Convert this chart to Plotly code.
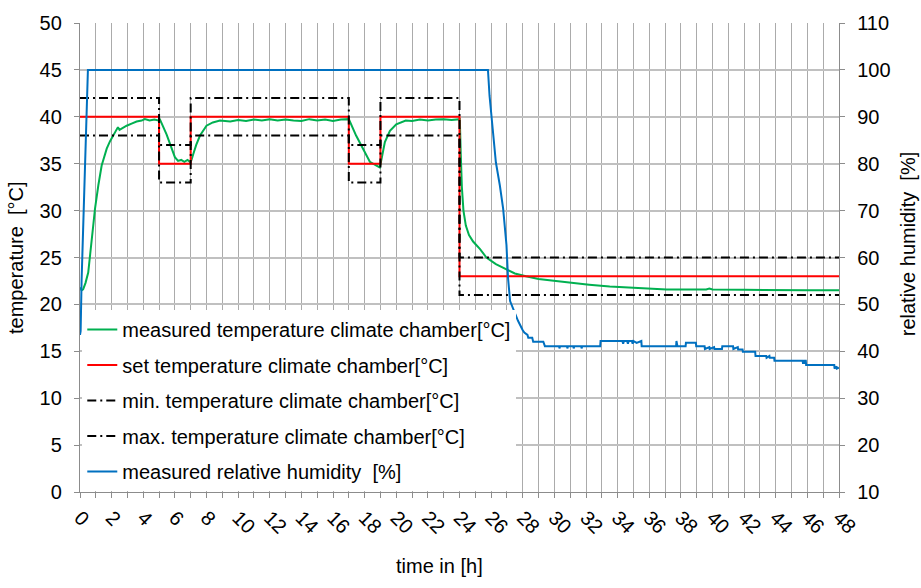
import plotly.graph_objects as go

# ---------------- data ----------------
# measured temperature climate chamber [°C]
t_meas = [0.0, 0.1, 0.2, 0.35, 0.52, 0.65, 0.74, 0.85, 0.95, 1.05, 1.16, 1.37, 1.55, 1.69,
          1.9, 2.1, 2.3, 2.4, 2.5, 2.7, 2.95, 3.3, 3.58, 3.9, 4.1, 4.4, 4.7, 4.95,
          5.06, 5.48, 5.8, 6.0, 6.2, 6.4, 6.6, 6.8, 6.95, 7.05, 7.16, 7.35, 7.59, 7.8,
          8.0, 8.4, 8.85, 9.5, 10.0, 10.5, 11.0, 11.5, 12.0, 12.5, 13.0, 13.5, 14.0,
          14.5, 15.0, 15.5, 16.0, 16.5, 17.0, 17.46, 17.9, 18.33, 18.75, 18.96, 19.07,
          19.28, 19.6, 20.0, 20.6, 21.0, 21.5, 22.0, 22.5, 23.0, 23.5, 23.95, 24.02,
          24.08, 24.15, 24.25, 24.4, 24.6, 24.86, 25.3, 25.7, 26.3, 26.97, 27.5, 28.2, 29.0,
          30.1, 31.0, 32.2, 33.5, 35.0, 36.0, 37.1, 38.5, 39.6, 39.8, 40.0, 42.0, 44.0,
          46.0, 48.0]
T_meas = [21.8, 21.5, 21.6, 22.3, 23.4, 25.2, 26.7, 28.6, 30.2, 31.6, 32.7, 34.8, 35.9, 36.6,
          37.4, 38.0, 38.5, 38.9, 38.6, 38.8, 39.05, 39.3, 39.5, 39.6, 39.75, 39.6, 39.7, 39.6,
          39.7, 38.1, 36.7, 35.7, 35.3, 35.4, 35.2, 35.4, 35.2, 35.4, 36.0, 37.0, 38.0, 38.6,
          39.05, 39.4, 39.6, 39.5, 39.65, 39.55, 39.7, 39.6, 39.75, 39.6, 39.7, 39.6, 39.55,
          39.75, 39.6, 39.7, 39.55, 39.7, 39.75, 38.0, 36.6, 35.2, 34.8, 34.6, 35.5,
          37.3, 38.5, 39.2, 39.6, 39.55, 39.7, 39.6, 39.7, 39.75, 39.65, 39.7, 39.75,
          36.0, 32.5, 30.0, 28.4, 27.4, 26.7, 25.9, 25.0, 24.3, 23.7, 23.3, 23.0, 22.7,
          22.5, 22.3, 22.1, 21.9, 21.75, 21.65, 21.6, 21.6, 21.6, 21.7, 21.6, 21.55, 21.5,
          21.5, 21.5]

# set / min / max temperature climate chamber [°C] (step profiles)
t_prof = [0, 5, 5, 7, 7, 17, 17, 19, 19, 24, 24, 48]
T_set = [40, 40, 35, 35, 40, 40, 35, 35, 40, 40, 23, 23]
T_min = [38, 38, 33, 33, 38, 38, 33, 33, 38, 38, 21, 21]
T_max = [42, 42, 37, 37, 42, 42, 37, 37, 42, 42, 25, 25]

# measured relative humidity [%]
t_hum = [0.0, 0.04, 0.1, 0.15, 0.21, 0.32, 0.42, 0.5, 25.8, 25.9, 26.1, 26.3, 26.55, 26.76,
         26.97, 27.07, 27.2, 27.4, 27.7, 28.0, 28.1, 28.3, 28.35, 28.6, 28.66, 29.3, 29.4,
         30.3, 30.32, 30.36, 30.8, 30.82, 30.86, 31.2, 31.22, 31.26, 31.7, 31.72, 31.76,
         32.9, 32.92, 34.3, 34.35, 34.4, 34.6, 34.65, 34.7, 34.9, 34.95, 35.0, 35.2, 35.5,
         35.52, 37.7, 37.72, 37.78, 38.3, 38.32, 38.95, 38.97, 39.5, 39.52, 39.8, 39.82,
         40.1, 40.12, 40.6, 40.62, 41.3, 41.32, 41.6, 41.62, 41.9, 41.92, 42.7, 42.72,
         43.4, 43.42, 43.6, 43.62, 43.9, 43.92, 45.7, 45.72, 45.8, 45.82, 45.9, 45.92,
         47.7, 47.72, 47.85, 47.87, 48.0]
h_hum = [43.5, 44.3, 55.0, 61.3, 64.1, 77.5, 91.6, 100.0, 100.0, 94.5, 87.4, 80.3, 75.4, 70.4,
         62.7, 55.6, 50.7, 48.9, 46.5, 44.5, 44.0, 43.5, 42.9, 42.9, 42.05, 42.05, 41.1,
         41.1, 40.6, 41.1, 41.1, 40.6, 41.1, 41.1, 40.6, 41.1, 41.1, 40.6, 41.1,
         41.1, 42.2, 42.2, 41.6, 42.2, 42.2, 41.6, 42.2, 42.2, 41.6, 42.2, 41.8, 42.2,
         41.1, 41.1, 42.2, 41.1, 41.1, 41.8, 41.8, 41.1, 41.1, 40.5, 40.9, 40.5,
         40.9, 40.5, 40.5, 41.1, 41.1, 40.5, 40.9, 40.4, 40.4, 39.9, 39.9, 39.0,
         39.0, 38.6, 39.0, 38.6, 38.6, 38.0, 38.0, 37.5, 37.5, 38.0, 38.0, 37.1,
         37.1, 36.3, 36.8, 36.3, 36.5]

x_ticks = list(range(0, 49, 2))
y_ticks = list(range(0, 51, 5))
y2_ticks = list(range(10, 111, 10))

# ---------------- figure ----------------
FONT = "Liberation Sans, Arial, sans-serif"
FS = 20
dashdot = "9px,4px,2px,4px"

fig = go.Figure()
fig.add_trace(go.Scatter(x=t_meas, y=T_meas, mode="lines", name="measured temperature climate chamber[°C]",
                         line=dict(color="#00B050", width=2), legendgroup="a"))
fig.add_trace(go.Scatter(x=t_prof, y=T_set, mode="lines", name="set temperature climate chamber[°C]",
                         line=dict(color="#FF0000", width=2), legendgroup="b"))
fig.add_trace(go.Scatter(x=t_prof, y=T_min, mode="lines", name="min. temperature climate chamber[°C]",
                         line=dict(color="#000000", width=2, dash=dashdot), legendgroup="c"))
fig.add_trace(go.Scatter(x=t_prof, y=T_max, mode="lines", name="max. temperature climate chamber[°C]",
                         line=dict(color="#000000", width=2, dash=dashdot), legendgroup="d"))
fig.add_trace(go.Scatter(x=t_hum, y=h_hum, mode="lines", name="measured relative humidity  [%]",
                         line=dict(color="#0070C0", width=2), yaxis="y2", legendgroup="e"))

grid_v = "#ABABAB"
grid_h = "#C0C0C0"
axis_c = "#8C8C8C"

fig.update_layout(
    width=921, height=588,
    margin=dict(l=80, r=82, t=20, b=96),
    paper_bgcolor="white", plot_bgcolor="white",
    font=dict(family=FONT, size=FS, color="black"),
    showlegend=True,
    legend=dict(x=0.003, xanchor="left", y=0.388, yanchor="top",
                bgcolor="white", borderwidth=0, traceorder="grouped",
                tracegroupgap=6.5, font=dict(family=FONT, size=FS, color="black"),
                itemwidth=30, entrywidth=440, entrywidthmode="pixels"),
    xaxis=dict(range=[0, 48], tickvals=x_ticks, ticktext=[str(v) for v in x_ticks],
               tickangle=45, ticks="outside", ticklen=5, tickcolor=axis_c,
               showgrid=True, gridcolor=grid_v, gridwidth=1.3,
               showline=True, linecolor=axis_c, linewidth=1.3, zeroline=False,
               minor=dict(dtick=1, tick0=0, ticks="outside", ticklen=5, tickcolor=axis_c,
                          showgrid=True, gridcolor=grid_v, gridwidth=1.3),
               tickfont=dict(family=FONT, size=FS, color="black")),
    yaxis=dict(range=[0, 50], tickvals=y_ticks, ticks="outside", ticklen=5, tickcolor=axis_c,
               showgrid=True, gridcolor=grid_h, gridwidth=1.6, zeroline=False,
               showline=True, linecolor=axis_c, linewidth=1.3, ticklabelstandoff=8,
               tickfont=dict(family=FONT, size=FS, color="black")),
    yaxis2=dict(range=[10, 110], tickvals=y2_ticks, overlaying="y", side="right",
                ticks="outside", ticklen=5, tickcolor=axis_c, showgrid=False, zeroline=False,
                showline=True, linecolor=axis_c, linewidth=1.3, ticklabelstandoff=8,
                tickfont=dict(family=FONT, size=FS, color="black")),
    annotations=[
        dict(text="temperature  [°C]", xref="paper", yref="paper", x=-0.085, y=0.50,
             xanchor="center", yanchor="middle", textangle=-90, showarrow=False,
             font=dict(family=FONT, size=FS, color="black")),
        dict(text="relative humidity  [%]", xref="paper", yref="paper", x=1.092, y=0.53,
             xanchor="center", yanchor="middle", textangle=-90, showarrow=False,
             font=dict(family=FONT, size=FS, color="black")),
        dict(text="time in [h]", xref="paper", yref="paper", x=0.474, y=-0.158,
             xanchor="center", yanchor="middle", showarrow=False,
             font=dict(family=FONT, size=FS, color="black")),
    ],
)

fig.write_html("out.html")
